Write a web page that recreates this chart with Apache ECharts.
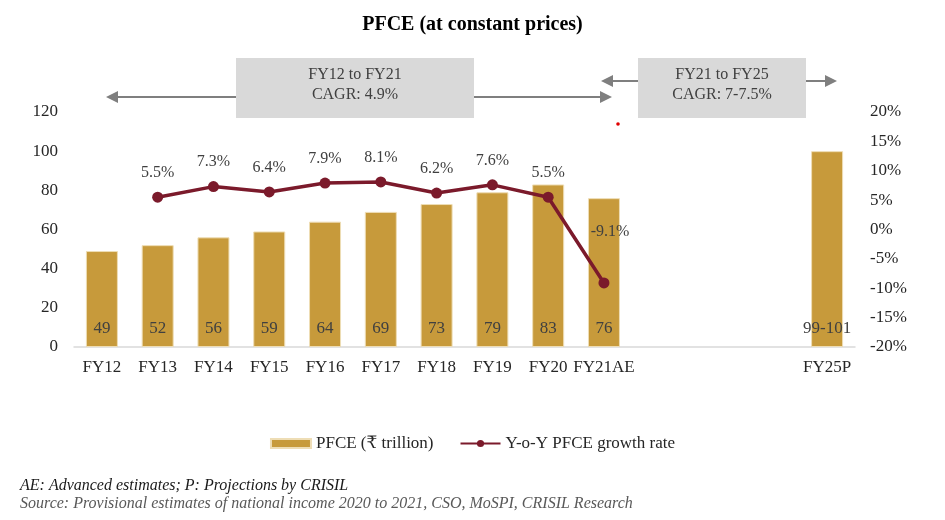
<!DOCTYPE html>
<html>
<head>
<meta charset="utf-8">
<script src="https://cdn.jsdelivr.net/npm/echarts@6/dist/echarts.min.js"></script>
<style>html,body{margin:0;padding:0;background:#fff}#c{width:945px;height:520px}</style>
</head>
<body>
<div id="c"></div>
<script>
const categories = ['FY12','FY13','FY14','FY15','FY16','FY17','FY18','FY19','FY20','FY21AE','','','','FY25P'];
const pfceValues = [49,52,56,59,64,69,73,79,83,76,null,null,null,100];
const pfceLabels = ['49','52','56','59','64','69','73','79','83','76','','','','99-101'];
const growthValues = [null,5.5,7.3,6.4,7.9,8.1,6.2,7.6,5.5,-9.1,null,null,null,null];
const leftTicks = {min:0,max:120,interval:20};
const rightTicks = {min:-20,max:20,interval:5};

const SERIF = '"Liberation Serif","Times New Roman","DejaVu Serif","Noto Sans",serif';
const chart = echarts.init(document.getElementById('c'), null, {renderer:'canvas'});

const growthData = growthValues.map((v,i)=>{
  if (v === null) return null;
  if (v < 0) return {value:v,label:{position:'top',distance:38,offset:[6,0]}};
  return v;
});

function arrowHead(tipX, y, dir){
  const L = 12, H = 6;
  return {type:'polygon', z:10, shape:{points:[[tipX,y],[tipX-dir*L,y-H],[tipX-dir*L,y+H]]}, style:{fill:'#7F7F7F'}};
}

chart.setOption({
  animation:false,
  backgroundColor:'#fff',
  textStyle:{fontFamily:SERIF},
  title:{text:'PFCE (at constant prices)',left:'center',top:10,textStyle:{fontFamily:SERIF,fontWeight:'bold',fontSize:20,color:'#000'}},
  grid:{left:74,right:90,top:112,bottom:173,containLabel:false},
  legend:{top:430,left:'center',itemWidth:40,itemHeight:9,itemGap:26,textStyle:{fontFamily:SERIF,fontSize:17,color:'#262626'},
    data:[{name:'PFCE (₹ trillion)',icon:'rect'},{name:'Y-o-Y PFCE growth rate'}]},
  xAxis:{type:'category',data:categories,
    axisLine:{lineStyle:{color:'#D9D9D9',width:1.5}},axisTick:{show:false},
    axisLabel:{interval:0,fontFamily:SERIF,fontSize:17,color:'#262626',margin:12}},
  yAxis:[
    {type:'value',min:leftTicks.min,max:leftTicks.max,interval:leftTicks.interval,splitLine:{show:false},
     axisLine:{show:false},axisTick:{show:false},axisLabel:{fontFamily:SERIF,fontSize:17,color:'#262626',margin:16}},
    {type:'value',min:rightTicks.min,max:rightTicks.max,interval:rightTicks.interval,splitLine:{show:false},
     axisLine:{show:false},axisTick:{show:false},axisLabel:{formatter:'{value}%',fontFamily:SERIF,fontSize:17,color:'#262626',margin:15}}
  ],
  series:[
    {name:'PFCE (₹ trillion)',type:'bar',data:pfceValues,barWidth:32,
     itemStyle:{color:'#C79A3B',borderColor:'#EEDDB5',borderWidth:1},
     label:{show:true,position:'insideBottom',distance:10,fontFamily:SERIF,fontSize:17,color:'#404040',
       formatter:p=>pfceLabels[p.dataIndex]}},
    {name:'Y-o-Y PFCE growth rate',type:'line',yAxisIndex:1,data:growthData,connectNulls:false,
     lineStyle:{color:'#7B1A2B',width:3.5},itemStyle:{color:'#7B1A2B'},symbol:'circle',symbolSize:11,
     label:{show:true,position:'top',distance:11,fontFamily:SERIF,fontSize:16,color:'#404040',formatter:p=>p.value+'%'}}
  ],
  graphic:[
    {type:'line',z:5,shape:{x1:112,y1:97,x2:605,y2:97},style:{stroke:'#7F7F7F',lineWidth:2}},
    arrowHead(106,97,-1), arrowHead(612,97,1),
    {type:'line',z:5,shape:{x1:608,y1:81,x2:830,y2:81},style:{stroke:'#7F7F7F',lineWidth:2}},
    arrowHead(601,81,-1), arrowHead(837,81,1),
    {type:'rect',z:11,shape:{x:236,y:58,width:238,height:60},style:{fill:'#D9D9D9'}},
    {type:'text',z:12,x:355,y:75,style:{text:'FY12 to FY21',fontFamily:SERIF,fontSize:16,fill:'#404040',align:'center',verticalAlign:'middle'}},
    {type:'text',z:12,x:355,y:95,style:{text:'CAGR: 4.9%',fontFamily:SERIF,fontSize:16,fill:'#404040',align:'center',verticalAlign:'middle'}},
    {type:'rect',z:11,shape:{x:638,y:58,width:168,height:60},style:{fill:'#D9D9D9'}},
    {type:'text',z:12,x:722,y:75,style:{text:'FY21 to FY25',fontFamily:SERIF,fontSize:16,fill:'#404040',align:'center',verticalAlign:'middle'}},
    {type:'text',z:12,x:722,y:95,style:{text:'CAGR: 7-7.5%',fontFamily:SERIF,fontSize:16,fill:'#404040',align:'center',verticalAlign:'middle'}},
    {type:'circle',z:12,shape:{cx:618,cy:124,r:1.8},style:{fill:'#E00000'}},
    {type:'text',left:20,top:478,style:{text:'AE: Advanced estimates; P: Projections by CRISIL',fontFamily:SERIF,fontStyle:'italic',fontSize:16,fill:'#1a1a1a'}},
    {type:'text',left:20,top:496,style:{text:'Source: Provisional estimates of national income 2020 to 2021, CSO, MoSPI, CRISIL Research',fontFamily:SERIF,fontStyle:'italic',fontSize:16,fill:'#595959'}}
  ]
});
</script>
</body>
</html>
